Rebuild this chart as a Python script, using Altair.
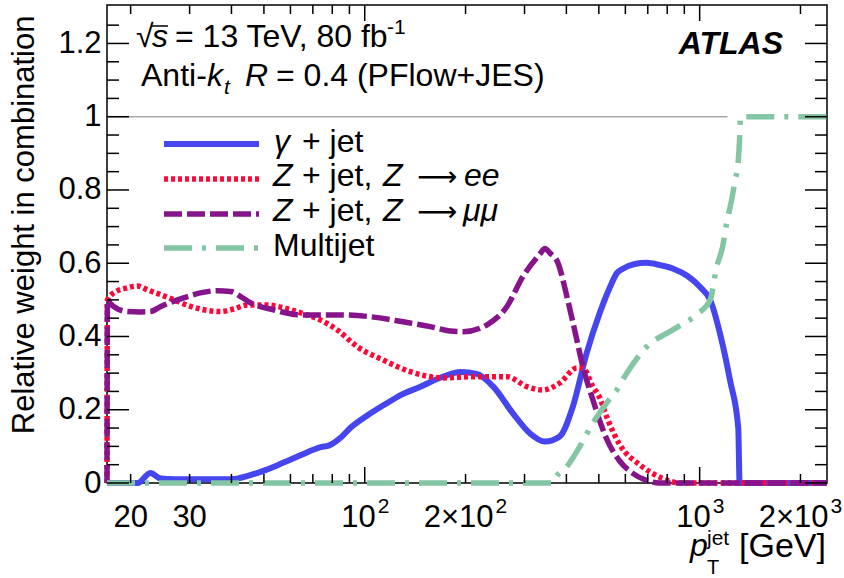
import altair as alt
import pandas as pd

FONT = "Liberation Sans"

# ---- relative weight of each in-situ method versus jet pT ----
gamma_pt = [17, 21, 22.9, 24.6, 27, 32, 40, 45, 50.5, 57, 64, 74, 78, 85, 91, 102, 115, 128, 146, 171,
            193, 216, 242, 277, 311, 345, 382, 418, 460, 503, 540, 566, 590, 640, 695, 760, 834, 920,
            1003, 1075, 1151, 1233, 1304, 1316, 2400]
gamma_w = [0, 0, 0.027, 0.012, 0.01, 0.01, 0.01, 0.02, 0.035, 0.055, 0.075, 0.098, 0.102, 0.125, 0.152,
           0.185, 0.215, 0.24, 0.262, 0.29, 0.303, 0.298, 0.263, 0.19, 0.136, 0.113, 0.127, 0.208, 0.355,
           0.464, 0.535, 0.573, 0.585, 0.598, 0.601, 0.595, 0.585, 0.565, 0.535, 0.50, 0.407, 0.279, 0.15,
           0.0, 0.0]

zee_pt = [17, 17.05, 17.8, 19.6, 21, 22.5, 24.6, 26.9, 30.2, 33, 37.1, 40.6, 44.6, 51.2, 54.8, 64.2, 73.7,
          82.8, 95, 113.5, 136.6, 171.4, 210.6, 265.9, 305, 340, 382, 430, 448, 480, 503, 528, 577, 662,
          744, 800, 870, 2400]
zee_w = [0, 0.5, 0.519, 0.533, 0.538, 0.527, 0.514, 0.5, 0.482, 0.473, 0.468, 0.475, 0.486, 0.486, 0.482,
         0.465, 0.445, 0.418, 0.372, 0.336, 0.304, 0.287, 0.29, 0.29, 0.263, 0.254, 0.273, 0.314, 0.314,
         0.263, 0.233, 0.18, 0.105, 0.05, 0.02, 0.008, 0.0, 0.0]

zmm_pt = [17, 17.05, 17.4, 17.8, 19.6, 21.4, 22.9, 24.6, 27.6, 29.6, 32.3, 36.3, 39.7, 42.6, 45.6, 53.4,
          64.2, 82.8, 103.8, 130.2, 156.8, 179.8, 196.6, 231.8, 265.9, 296.8, 333.4, 345, 357.3, 377.4,
          401.5, 430, 448, 480, 503, 528, 577, 630, 690, 760, 2400]
zmm_w = [0, 0.5, 0.49, 0.482, 0.468, 0.467, 0.468, 0.482, 0.5, 0.509, 0.519, 0.525, 0.523, 0.509, 0.492,
         0.473, 0.459, 0.459, 0.454, 0.44, 0.427, 0.415, 0.413, 0.432, 0.482, 0.564, 0.625, 0.64, 0.628,
         0.601, 0.509, 0.39, 0.318, 0.227, 0.17, 0.12, 0.06, 0.027, 0.008, 0, 0]

mj_pt = [17, 365, 372, 401.5, 438.8, 480, 528, 565.6, 605.9, 695, 830.8, 979.5, 1075, 1124, 1171, 1204,
         1246, 1272, 1305, 1316, 1325, 2400]
mj_w = [0, 0, 0.015, 0.045, 0.1, 0.164, 0.219, 0.254, 0.3, 0.372, 0.418, 0.46, 0.5, 0.59, 0.645, 0.71,
        0.773, 0.82, 0.883, 0.94, 1.0, 1.0]

# ---- axis ticks and labels ----
x_plain_vals = [20, 30]
x_plain_text = ["20", "30"]
x_pow_vals = [100, 1000]          # drawn as 10^n
x_pow_exp = ["2", "3"]
x_2pow_vals = [200, 2000]         # drawn as 2x10^n
x_2pow_exp = ["2", "3"]
x_major = [100, 1000]
x_minor = [20, 30, 40, 50, 60, 70, 80, 90, 200, 300, 400, 500, 600, 700, 800, 900, 2000]
y_major = [0, 0.2, 0.4, 0.6, 0.8, 1.0, 1.2]
y_minor = [0.05, 0.1, 0.15, 0.25, 0.3, 0.35, 0.45, 0.5, 0.55, 0.65, 0.7, 0.75, 0.85, 0.9, 0.95,
           1.05, 1.1, 1.15, 1.25]
unity_span = [17, 1210]

# ---- layout ----
OX, OY = 107, 5          # plot origin inside the page
W, H = 720, 478
xs = alt.Scale(type="log", domain=[17, 2400], nice=False)
ys = alt.Scale(domain=[0, 1.305], nice=False, zero=False)

BLUE, RED, PURPLE, GREEN = "#4646EE", "#FF0838", "#86148A", "#84C6A3"

# the same axis objects go on every layer so the shared axes merge cleanly
x_axis = alt.Axis(labels=False, ticks=False, domain=False, grid=False, title=None)
y_axis = alt.Axis(values=y_major, format="~g", ticks=False, domain=False, grid=False,
                  labelFont=FONT, labelFontSize=31, labelColor="black", labelPadding=6,
                  labelFlush=False, labelOverlap=False,
                  title="Relative weight in combination", titleFont=FONT, titleFontSize=31,
                  titleFontWeight="normal", titleColor="black", titleAngle=-90,
                  titleAlign="right", titleBaseline="alphabetic", titleX=-74, titleY=10)


def X(field):
    return alt.X(field, scale=xs, axis=x_axis)


def Y(field):
    return alt.Y(field, scale=ys, axis=y_axis)


def series(pt, w, color, width, dash=None):
    df = pd.DataFrame({"pt": pt, "w": w, "i": list(range(len(pt)))})
    style = dict(color=color, strokeWidth=width, interpolate="monotone", strokeJoin="round")
    if dash:
        style["strokeDash"] = dash
    return alt.Chart(df).mark_line(**style).encode(x=X("pt:Q"), y=Y("w:Q"), order="i:Q")


def xticks(vals, length):
    df = pd.DataFrame({"v": vals})
    bottom = alt.Chart(df).mark_rule(color="black", strokeWidth=1.5).encode(
        x=X("v:Q"), y=alt.value(H), y2=alt.value(H - length))
    top = alt.Chart(df).mark_rule(color="black", strokeWidth=1.5).encode(
        x=X("v:Q"), y=alt.value(0), y2=alt.value(length))
    return [bottom, top]


def yticks(vals, length):
    df = pd.DataFrame({"v": vals})
    left = alt.Chart(df).mark_rule(color="black", strokeWidth=1.5).encode(
        y=Y("v:Q"), x=alt.value(0), x2=alt.value(length))
    right = alt.Chart(df).mark_rule(color="black", strokeWidth=1.5).encode(
        y=Y("v:Q"), x=alt.value(W), x2=alt.value(W - length))
    return [left, right]


def xlabels(vals, texts, y, size=31, align="center", dx=0):
    df = pd.DataFrame({"v": vals, "t": texts})
    return alt.Chart(df).mark_text(
        font=FONT, fontSize=size, align=align, baseline="alphabetic", color="black", dx=dx,
    ).encode(x=X("v:Q"), y=alt.value(y - OY), text="t:N")


one = pd.DataFrame({"k": [0]})


def txt(s, x, y, size=32, style="normal", weight="normal", align="left", font=FONT):
    return alt.Chart(one).mark_text(
        text=s, font=font, fontSize=size, fontStyle=style, fontWeight=weight,
        align=align, baseline="alphabetic", color="black",
    ).encode(x=alt.value(x - OX), y=alt.value(y - OY))


def swatch(y, color, width, dash=None):
    style = dict(color=color, strokeWidth=width)
    if dash:
        style["strokeDash"] = dash
    return alt.Chart(one).mark_rule(**style).encode(
        x=alt.value(164 - OX), x2=alt.value(259 - OX), y=alt.value(y - OY))


unity = alt.Chart(pd.DataFrame({"a": [unity_span[0]], "b": [unity_span[1]], "y": [1.0]})).mark_rule(
    color="#A8A8A8", strokeWidth=1.5).encode(x=X("a:Q"), x2="b:Q", y=Y("y:Q"))

DASH_EE = [4, 3]
DASH_MM = [18, 5]
DASH_MJ = [28, 10, 4, 10]

layers = [
    unity,
    series(gamma_pt, gamma_w, BLUE, 6),
    series(zee_pt, zee_w, RED, 5.5, DASH_EE),
    series(zmm_pt, zmm_w, PURPLE, 5.5, DASH_MM),
    series(mj_pt, mj_w, GREEN, 5.5, DASH_MJ),
]
layers += xticks(x_major, 16) + xticks(x_minor, 9)
layers += yticks(y_major, 22) + yticks(y_minor, 12)

# x tick labels, powers of ten with raised exponents
layers += [
    xlabels(x_plain_vals, x_plain_text, 527),
    xlabels(x_pow_vals, ["10"] * len(x_pow_vals), 527, align="right", dx=11),
    xlabels(x_pow_vals, x_pow_exp, 513, size=21, align="left", dx=13),
    xlabels(x_2pow_vals, ["2\u00d710"] * len(x_2pow_vals), 527, align="right", dx=28),
    xlabels(x_2pow_vals, x_2pow_exp, 513, size=21, align="left", dx=30),
]

# header text
layers += [
    txt("\u221a", 136, 47),
    txt("s", 152, 47, style="italic"),
    txt("= 13 TeV, 80 fb", 175, 47),
    txt("-1", 387, 34, size=21),
    txt("Anti-", 141, 86),
    txt("k", 207, 86, style="italic"),
    txt("t", 224, 94, size=21, style="italic"),
    txt("R", 245, 86, style="italic"),
    txt("= 0.4 (PFlow+JES)", 276, 86),
    txt("ATLAS", 783, 54, weight="bold", style="italic", align="right"),
]
layers.append(alt.Chart(one).mark_rule(color="black", strokeWidth=1.5).encode(
    x=alt.value(151 - OX), x2=alt.value(168 - OX), y=alt.value(26 - OY)))

# legend
layers += [
    swatch(144, BLUE, 6),
    swatch(179, RED, 5.5, DASH_EE),
    swatch(214, PURPLE, 5.5, DASH_MM),
    swatch(248, GREEN, 5.5, DASH_MJ),
    txt("\u03b3", 274, 152, style="italic"),
    txt("+ jet", 302, 152),
    txt("Z", 273, 186, style="italic"),
    txt("+ jet,", 302, 186),
    txt("Z", 383, 186, style="italic"),
    txt("\u27f6", 417, 186, font="DejaVu Sans", size=28),
    txt("ee", 464, 186, style="italic"),
    txt("Z", 273, 221, style="italic"),
    txt("+ jet,", 302, 221),
    txt("Z", 383, 221, style="italic"),
    txt("\u27f6", 417, 221, font="DejaVu Sans", size=28),
    txt("\u03bc\u03bc", 463, 221, style="italic"),
    txt("Multijet", 273, 256),
]

# x-axis title
layers += [
    txt("p", 690, 556, style="italic"),
    txt("jet", 707, 545, size=21),
    txt("T", 707, 574, size=20),
    txt("[GeV]", 826, 557, size=34, align="right"),
]

chart = alt.layer(*layers).properties(
    width=W, height=H,
    autosize=alt.AutoSizeParams(type="none"),
    padding={"left": OX, "top": OY, "right": 844 - OX - W, "bottom": 578 - OY - H},
).configure_view(stroke="black", strokeWidth=1.5)

chart.save("out.html", embed_options={"renderer": "svg", "actions": False})
